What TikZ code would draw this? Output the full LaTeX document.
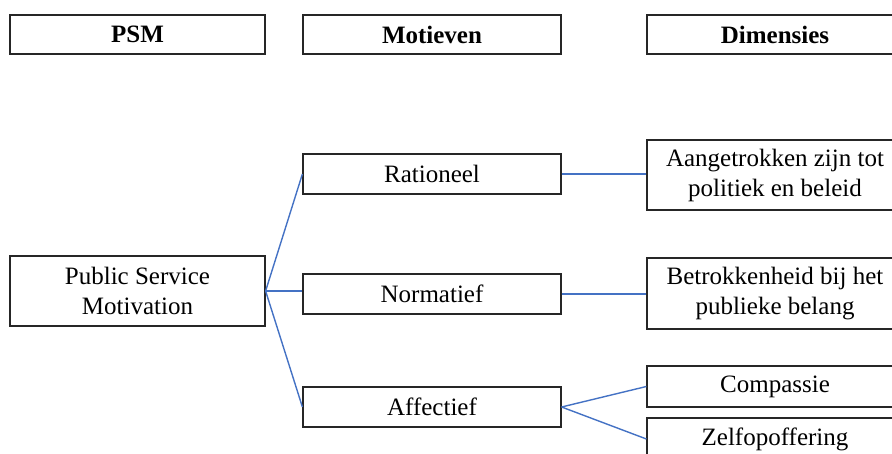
\documentclass[tikz,border=0pt]{standalone}
\usepackage{fontspec}
\setmainfont{Liberation Serif}
\begin{document}
\begin{tikzpicture}[x=1pt,y=-1pt,
  box/.style={draw=black!85,line width=1.2pt,rectangle,inner sep=0pt,align=center,
    font=\fontsize{25}{30}\selectfont},
  head/.style={box,minimum height=39pt,font=\bfseries\fontsize{25}{28}\selectfont},
  link/.style={draw={rgb,255:red,68;green,114;blue,196},line width=1.4pt}]
\useasboundingbox (0,0) rectangle (892,454);
\clip (0,0) rectangle (892,454);

% column headers
\node[head,minimum width=255pt] (hpsm) at (137.5,34.5) {PSM};
\node[head,minimum width=258pt] (hmot) at (432,34.5) {Motieven};
\node[head,minimum width=256pt] (hdim) at (775,34.5) {Dimensies};

% PSM
\node[box,minimum width=255pt,minimum height=70pt] (psm) at (137.5,291) {Public Service\\Motivation};

% motives
\node[box,minimum width=258pt,minimum height=40pt] (rat) at (432,174) {Rationeel};
\node[box,minimum width=258pt,minimum height=40pt] (norm) at (432,294) {Normatief};
\node[box,minimum width=258pt,minimum height=40pt] (aff) at (432,407) {Affectief};

% dimensions
\node[box,minimum width=256pt,minimum height=70pt] (d1) at (775,175) {Aangetrokken zijn tot\\politiek en beleid};
\node[box,minimum width=256pt,minimum height=71pt] (d2) at (775,293.5) {Betrokkenheid bij het\\publieke belang};
\node[box,minimum width=256pt,minimum height=41pt] (d3) at (775,386.5) {Compassie};
\node[box,minimum width=256pt,minimum height=42pt] (d4) at (775,439) {Zelfopoffering};

% connectors
\draw[link] (psm.east) -- (rat.west);
\draw[link] (psm.east) -- (psm.east -| norm.west);
\draw[link] (psm.east) -- (aff.west);
\draw[link] (rat.east) -- (rat.east -| d1.west);
\draw[link] (norm.east) -- (norm.east -| d2.west);
\draw[link] (aff.east) -- (d3.west);
\draw[link] (aff.east) -- (d4.west);
\end{tikzpicture}
\end{document}
